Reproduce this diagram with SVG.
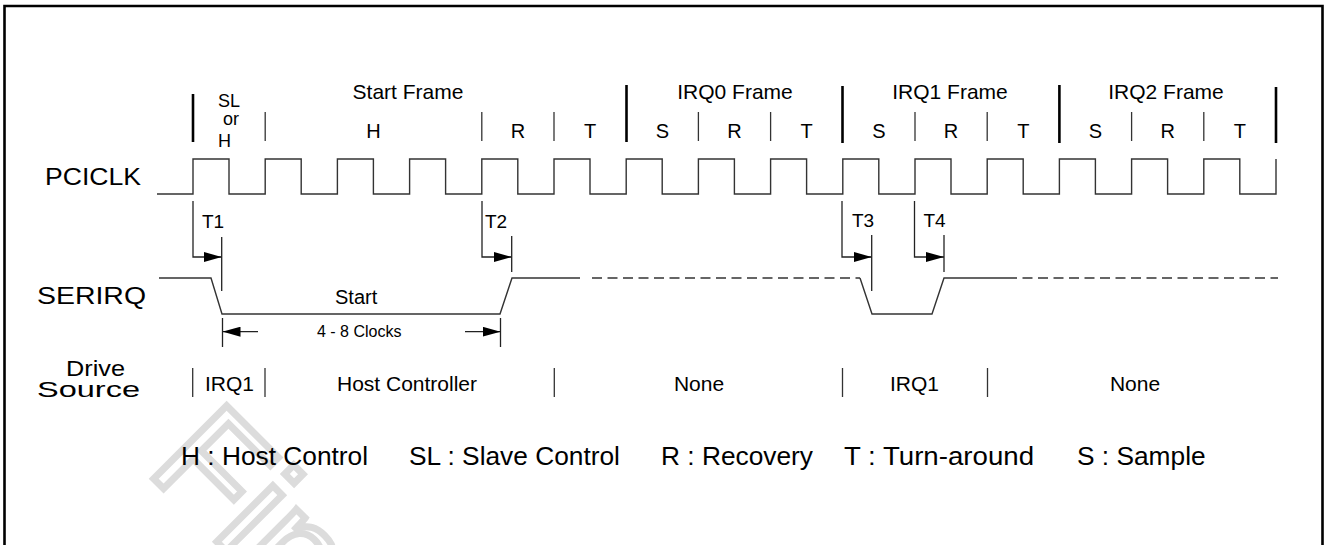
<svg xmlns="http://www.w3.org/2000/svg" width="1328" height="545" viewBox="0 0 1328 545">
<style>
text{font-family:"Liberation Sans",Arial,sans-serif;fill:#000}
.big{font-size:24px}
.lbl{font-size:20px}
.fr{font-size:21px;text-anchor:middle}
.sl{font-size:20px;text-anchor:middle}
.ds{font-size:21px;text-anchor:middle}
.tl{font-size:19px}
.leg{font-size:26.3px}
.wave{fill:none;stroke:#333;stroke-width:1.4}
.dash{fill:none;stroke:#333;stroke-width:1.4;stroke-dasharray:10 5.5}
.thin{stroke:#333;stroke-width:1.3}
.thick{stroke:#000;stroke-width:2.6}
.ln{fill:none;stroke:#222;stroke-width:1.3}
</style>
<defs>
<marker id="ah" markerWidth="18" markerHeight="10" refX="18" refY="5" orient="auto" markerUnits="userSpaceOnUse"><path d="M0,0 L18,5 L0,10 z" fill="#000"/></marker>
</defs>
<rect width="1328" height="545" fill="#fff"/>
<g id="watermark">
<text x="0" y="0" transform="translate(145,470) rotate(45)" style="font-size:150px;fill:none;stroke:#dcdcdc;stroke-width:7">Final</text>
</g>
<path id="border" d="M4.5,545 V6 H1322.5 V545" fill="none" stroke="#000" stroke-width="2.6"/>
<g id="labels">
<text class="big" x="45" y="185" textLength="96" lengthAdjust="spacingAndGlyphs">PCICLK</text>
<text class="big" x="37" y="304" textLength="109" lengthAdjust="spacingAndGlyphs">SERIRQ</text>
<text class="big" style="font-size:22px"><tspan x="66" y="376" textLength="59" lengthAdjust="spacingAndGlyphs">Drive</tspan><tspan x="37" y="397" textLength="103" lengthAdjust="spacingAndGlyphs">Source</tspan></text>
</g>
<g id="frames">
<line class="thick" x1="193" y1="94" x2="193" y2="142"/>
<line class="thin" x1="265.2" y1="112" x2="265.2" y2="141"/>
<line class="thin" x1="481.8" y1="112" x2="481.8" y2="141"/>
<line class="thin" x1="554" y1="112" x2="554" y2="141"/>
<line class="thick" x1="626.5" y1="85" x2="626.5" y2="142"/>
<line class="thin" x1="698.4" y1="112" x2="698.4" y2="141"/>
<line class="thin" x1="770.6" y1="112" x2="770.6" y2="141"/>
<line class="thick" x1="842.5" y1="86" x2="842.5" y2="143"/>
<line class="thin" x1="915" y1="112" x2="915" y2="141"/>
<line class="thin" x1="987.2" y1="112" x2="987.2" y2="141"/>
<line class="thick" x1="1059.4" y1="85" x2="1059.4" y2="143"/>
<line class="thin" x1="1131.6" y1="112" x2="1131.6" y2="141"/>
<line class="thin" x1="1203.8" y1="112" x2="1203.8" y2="141"/>
<line class="thick" x1="1276" y1="87" x2="1276" y2="143"/>
<text x="218" y="107" style="font-size:18px">SL</text>
<text x="223" y="125" style="font-size:18px">or</text>
<text x="218" y="147" style="font-size:18px">H</text>
<text class="fr" x="408" y="99">Start Frame</text>
<text class="fr" x="735" y="99">IRQ0 Frame</text>
<text class="fr" x="950" y="99">IRQ1 Frame</text>
<text class="fr" x="1166" y="99">IRQ2 Frame</text>
<text class="sl" x="373.5" y="138">H</text>
<text class="sl" x="518" y="138">R</text>
<text class="sl" x="590" y="138">T</text>
<text class="sl" x="662.3" y="138">S</text>
<text class="sl" x="734.5" y="138">R</text>
<text class="sl" x="806.6" y="138">T</text>
<text class="sl" x="878.8" y="138">S</text>
<text class="sl" x="951.1" y="138">R</text>
<text class="sl" x="1023.3" y="138">T</text>
<text class="sl" x="1095.5" y="138">S</text>
<text class="sl" x="1167.7" y="138">R</text>
<text class="sl" x="1239.9" y="138">T</text>
</g>
<g id="pciclk">
<path class="wave" d="M157,194 H193 V159 H229 V194 H265.2 V159 H301.2 V194 H337.4 V159 H373.4 V194 H409.6 V159 H445.6 V194 H481.8 V159 H517.8 V194 H554 V159 H590 V194 H626.2 V159 H662.2 V194 H698.4 V159 H734.4 V194 H770.6 V159 H806.6 V194 H842.8 V159 H878.8 V194 H915 V159 H951 V194 H987.2 V159 H1023.2 V194 H1059.4 V159 H1095.4 V194 H1131.6 V159 H1167.6 V194 H1203.8 V159 H1239.8 V194 H1276 V159"/>
</g>
<g id="serirq">
<path class="wave" d="M159,278 H211 L222,314 H500 L512,278 H580"/>
<path class="dash" d="M592,278 H860"/>
<path class="wave" d="M860,278 L872,314 H932 L944,278 H1007"/>
<path class="dash" d="M1007,278 H1278"/>
<text class="lbl" x="335" y="304">Start</text>
</g>
<g id="connectors">
<path class="ln" d="M193,201 V257 H221.7" marker-end="url(#ah)"/>
<line class="ln" x1="221.7" y1="237" x2="221.7" y2="291"/>
<path class="ln" d="M482,201 V257 H511.7" marker-end="url(#ah)"/>
<line class="ln" x1="511.7" y1="236" x2="511.7" y2="272"/>
<path class="ln" d="M842,201 V257 H871.7" marker-end="url(#ah)"/>
<line class="ln" x1="871.7" y1="235" x2="871.7" y2="291"/>
<path class="ln" d="M914.5,201 V257 H944" marker-end="url(#ah)"/>
<line class="ln" x1="944" y1="235" x2="944" y2="272"/>
<line class="ln" x1="222.5" y1="318" x2="222.5" y2="347"/>
<line class="ln" x1="500.5" y1="318" x2="500.5" y2="347"/>
<path class="ln" d="M258,331.7 H222.5" marker-end="url(#ah)"/>
<path class="ln" d="M465,331.7 H500.5" marker-end="url(#ah)"/>
</g>
<g id="timing-labels">
<text class="tl" x="202" y="228">T1</text>
<text class="tl" x="485" y="228">T2</text>
<text class="tl" x="852" y="227">T3</text>
<text class="tl" x="923.5" y="227">T4</text>
<text x="317" y="337" style="font-size:16px">4 - 8 Clocks</text>
</g>
<g id="drive-source">
<line class="thin" x1="192.7" y1="368" x2="192.7" y2="397"/>
<line class="thin" x1="265" y1="368" x2="265" y2="397"/>
<line class="thin" x1="554.3" y1="368" x2="554.3" y2="397"/>
<line class="thin" x1="842.5" y1="368" x2="842.5" y2="397"/>
<line class="thin" x1="987.5" y1="368" x2="987.5" y2="397"/>
<text class="ds" x="229.5" y="391">IRQ1</text>
<text class="ds" x="407" y="391">Host Controller</text>
<text class="ds" x="699" y="391">None</text>
<text class="ds" x="914.5" y="391">IRQ1</text>
<text class="ds" x="1135" y="391">None</text>
</g>
<g id="legend">
<text class="leg" x="181" y="465">H : Host Control</text>
<text class="leg" x="409" y="465">SL : Slave Control</text>
<text class="leg" x="661" y="465">R : Recovery</text>
<text class="leg" x="844" y="465" textLength="190" lengthAdjust="spacingAndGlyphs">T : Turn-around</text>
<text class="leg" x="1077" y="465">S : Sample</text>
</g>
</svg>
